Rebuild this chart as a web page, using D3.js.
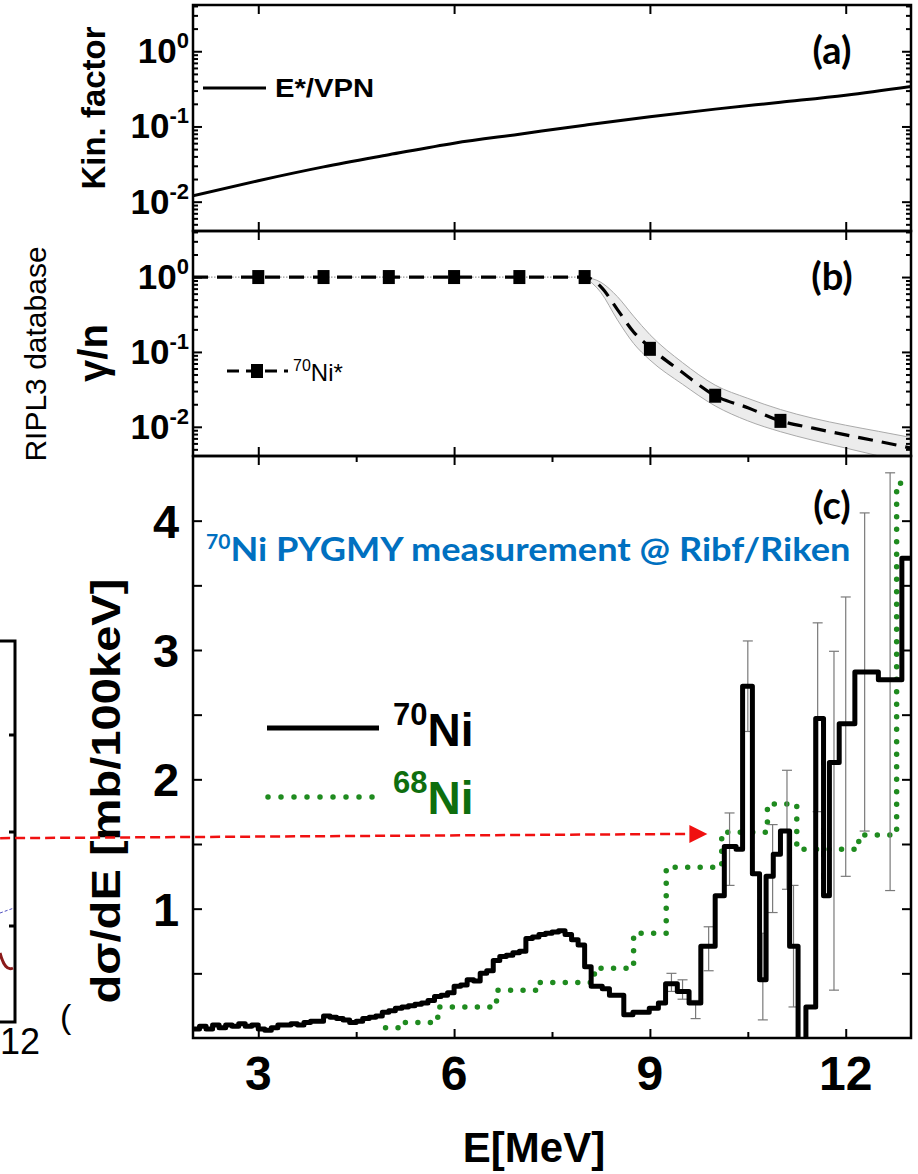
<!DOCTYPE html>
<html><head><meta charset="utf-8">
<script src="https://cdn.jsdelivr.net/npm/d3@7"></script>
<style>body{margin:0;background:#fff} svg{display:block}</style>
</head><body>
<script>
// ---------------- DATA ----------------
const xTickValues = [3, 6, 9, 12];
const xMinorTicks = [4.5, 7.5, 10.5];
const xTickLabels = ["3", "6", "9", "12"];

// panel (a): kinematic factor E*/VPN
const kinE = [2, 3, 4, 5, 6, 7, 8, 9, 10, 11, 12, 13];
const kinFactor = [0.012, 0.019, 0.029, 0.042, 0.060, 0.079, 0.104, 0.135, 0.17, 0.21, 0.26, 0.34];

// panel (b): RIPL3 gamma/n for 70Ni*
const riplE = [3, 4, 5, 6, 7, 8, 9, 10, 11];
const riplGammaN = [1, 1, 1, 1, 1, 1, 0.11, 0.026, 0.012];
const riplCurveE = [2, 3, 4, 5, 6, 7, 8, 8.25, 8.5, 8.75, 9, 9.5, 10, 10.5, 11, 11.5, 12, 12.5, 13];
const riplCurve = [1, 1, 1, 1, 1, 1, 1, 0.74, 0.37, 0.185, 0.115, 0.053, 0.026, 0.018, 0.012, 0.0096, 0.0078, 0.0064, 0.0052];
const bandE = [8, 8.25, 8.5, 8.75, 9, 9.5, 10, 10.5, 11, 11.5, 12, 12.5, 13];
const bandUpper = [1.0, 0.85, 0.55, 0.30, 0.17, 0.072, 0.036, 0.024, 0.017, 0.013, 0.0105, 0.0087, 0.0072];
const bandLower = [1.0, 0.62, 0.27, 0.13, 0.078, 0.037, 0.019, 0.012, 0.0086, 0.0066, 0.0052, 0.0041, 0.0033];

const logMajor = [0.01, 0.1, 1];
const logExp = ["-2", "-1", "0"];

// panel (c): 70Ni histogram (bin starts, values)
const ni70Start = [
  2.0,2.1,2.2,2.3,2.4,2.5,2.6,2.7,2.8,2.9,
  3.0,3.1,3.2,3.3,3.4,3.5,3.6,3.7,3.8,3.9,
  4.0,4.1,4.2,4.3,4.4,4.5,4.6,4.7,4.8,4.9,
  5.0,5.1,5.2,5.3,5.4,5.5,5.6,5.7,5.8,5.9,
  6.0,6.1,6.2,6.3,6.4,6.5,6.6,6.7,6.8,6.9,
  7.0,7.1,7.2,7.3,7.4,7.5,7.6,7.7,7.8,7.9,
  8.0,8.1,8.27,8.38,8.6,8.74,8.99,9.13,9.24,9.42,9.6,9.78,
  10.0,10.14,10.32,10.42,10.57,10.68,10.78,10.89,11.0,11.14,11.27,11.39,
  11.54,11.66,11.75,11.9,12.14,12.5,12.86];
const ni70Value = [
  0.07,0.09,0.07,0.10,0.08,0.10,0.09,0.11,0.09,0.10,
  0.07,0.06,0.08,0.10,0.10,0.11,0.10,0.12,0.13,0.13,
  0.17,0.16,0.15,0.14,0.12,0.13,0.15,0.16,0.17,0.20,
  0.21,0.23,0.24,0.25,0.26,0.27,0.29,0.32,0.33,0.35,
  0.40,0.41,0.45,0.44,0.50,0.52,0.60,0.63,0.64,0.66,
  0.67,0.77,0.78,0.80,0.81,0.82,0.83,0.80,0.76,0.72,
  0.55,0.40,0.38,0.33,0.18,0.20,0.23,0.27,0.42,0.36,0.27,0.71,
  1.10,1.48,1.46,2.72,1.27,0.45,1.25,1.42,1.60,0.71,-0.30,0.24,
  2.47,1.10,2.13,2.43,2.83,2.77,3.71];
const histEnd = 13;

// 70Ni error bars
const errE  = [9.33, 9.5, 9.7, 9.9, 10.22, 10.5, 10.73, 10.88, 11.1, 11.2, 11.57, 11.82, 12.0, 12.29, 12.68];
const errLo = [0.36, 0.30, 0.15, 0.52, 1.18, 2.37, 0.14, 0.97, 1.15, 0.24, 1.75, 0.37, 1.25, 1.60, 1.14];
const errHi = [0.50, 0.45, 0.29, 0.86, 1.74, 3.07, 0.81, 1.65, 2.07, 1.18, 3.21, 2.99, 3.41, 4.06, 4.37];

// panel (c): 68Ni histogram
const ni68Start = [4.95, 5.25, 5.75, 6.65, 7.25, 8.15, 8.75, 9.25, 10.1, 10.8, 11.25, 12.2, 12.78];
const ni68Value = [0.08, 0.12, 0.24, 0.37, 0.43, 0.54, 0.81, 1.32, 1.59, 1.81, 1.46, 1.57, 4.29];

const yTicksC = [1, 2, 3, 4];
const yTicksCAll = [0.5, 1, 1.5, 2, 2.5, 3, 3.5, 4];

// red arrow annotation (data units of panel c)
const arrowFrom = [-0.955, 1.545];
const arrowTo = [9.88, 1.578];

// ---------------- LAYOUT ----------------
const W = 918, H = 1174;
const X0 = 193, X1 = 911;
const A = {top: 5, bottom: 231}, B = {top: 231, bottom: 456}, C = {top: 456, bottom: 1038};
const FONT = "'Liberation Sans', Arial, Helvetica, sans-serif";
const NARROW = "'Liberation Sans Narrow', 'Arial Narrow', 'Liberation Sans', Arial, sans-serif";
const LATO = "Lato, 'Open Sans', sans-serif";

const svg = d3.select("body").append("svg").attr("width", W).attr("height", H)
  .style("background", "#fff");

const x = d3.scaleLinear().domain([2, 13]).range([X0, X1]);
const logDom = [Math.pow(10, -2.39), Math.pow(10, 0.615)];
const yA = d3.scaleLog().domain(logDom).range([A.bottom, A.top]);
const yB = d3.scaleLog().domain(logDom).range([B.bottom, B.top]);
const yC = d3.scaleLinear().domain([0, 4.5]).range([C.bottom, C.top]);

const defs = svg.append("defs");
[["clipA", A], ["clipB", B], ["clipC", C]].forEach(([id, p]) => {
  defs.append("clipPath").attr("id", id).append("rect")
    .attr("x", X0).attr("y", p.top).attr("width", X1 - X0).attr("height", p.bottom - p.top);
});

// log minor tick list
const logMinor = [];
[0.001, 0.01, 0.1, 1].forEach(d => { for (let k = 2; k <= 9; k++) { const v = k * d; if (v >= logDom[0] && v <= logDom[1]) logMinor.push(v); } });

function styleAxis(g) {
  g.select(".domain").remove();
  g.selectAll(".tick line").attr("stroke", "#000").attr("stroke-width", 2);
  g.selectAll(".tick text").remove();
}

function xAxes(p, minor) {
  svg.append("g").attr("transform", `translate(0,${p.top})`)
    .call(d3.axisTop(x).tickValues(xTickValues).tickSize(-9)).call(styleAxis);
  svg.append("g").attr("transform", `translate(0,${p.bottom})`)
    .call(d3.axisBottom(x).tickValues(xTickValues).tickSize(-9)).call(styleAxis);
  if (minor) {
    svg.append("g").attr("transform", `translate(0,${p.top})`)
      .call(d3.axisTop(x).tickValues(xMinorTicks).tickSize(-6)).call(styleAxis);
    svg.append("g").attr("transform", `translate(0,${p.bottom})`)
      .call(d3.axisBottom(x).tickValues(xMinorTicks).tickSize(-6)).call(styleAxis);
  }
}

function logAxes(y) {
  svg.append("g").attr("transform", `translate(${X0},0)`)
    .call(d3.axisLeft(y).tickValues(logMajor).tickSize(-9)).call(styleAxis);
  svg.append("g").attr("transform", `translate(${X0},0)`)
    .call(d3.axisLeft(y).tickValues(logMinor).tickSize(-5)).call(styleAxis);
  svg.append("g").attr("transform", `translate(${X1},0)`)
    .call(d3.axisRight(y).tickValues(logMajor).tickSize(-9)).call(styleAxis);
  svg.append("g").attr("transform", `translate(${X1},0)`)
    .call(d3.axisRight(y).tickValues(logMinor).tickSize(-5)).call(styleAxis);
  logMajor.forEach((v, i) => {
    const t = svg.append("text").attr("x", 189).attr("y", y(v) + 12)
      .attr("text-anchor", "end").attr("font-family", FONT).attr("font-weight", "bold")
      .attr("font-size", 35).attr("fill", "#000").text("10");
    t.append("tspan").attr("dy", -15).attr("font-size", 22).text(logExp[i]);
  });
}

// ---------------- PANEL (a) ----------------
const kinData = kinE.map((e, i) => [e, kinFactor[i]]);
svg.append("path").datum(kinData).attr("clip-path", "url(#clipA)")
  .attr("fill", "none").attr("stroke", "#000").attr("stroke-width", 3)
  .attr("d", d3.line().x(d => x(d[0])).y(d => yA(d[1])).curve(d3.curveMonotoneX));
xAxes(A, false);
logAxes(yA);
// legend (a)
svg.append("line").attr("x1", 203).attr("x2", 266).attr("y1", 88).attr("y2", 88)
  .attr("stroke", "#000").attr("stroke-width", 3);
svg.append("text").attr("x", 275).attr("y", 97).attr("font-family", FONT)
  .attr("font-weight", "bold").attr("font-size", 25).attr("textLength", 99)
  .attr("lengthAdjust", "spacingAndGlyphs").text("E*/VPN");
svg.append("text").attr("x", 832).attr("y", 64).attr("text-anchor", "middle")
  .attr("font-family", LATO).attr("font-weight", "bold").attr("font-size", 38).text("(a)");
svg.append("text").attr("transform", "translate(105,108) rotate(-90)")
  .attr("text-anchor", "middle").attr("font-family", FONT).attr("font-weight", "bold")
  .attr("font-size", 33).text("Kin. factor");

// ---------------- PANEL (b) ----------------
const bandData = bandE.map((e, i) => [e, bandLower[i], bandUpper[i]]);
const gB = svg.append("g").attr("clip-path", "url(#clipB)");
gB.append("path").datum(bandData).attr("fill", "#ececec").attr("stroke", "none")
  .attr("d", d3.area().x(d => x(d[0])).y0(d => yB(d[1])).y1(d => yB(d[2])).curve(d3.curveMonotoneX));
gB.append("path").datum(bandData).attr("fill", "none").attr("stroke", "#aaa").attr("stroke-width", 1)
  .attr("d", d3.line().x(d => x(d[0])).y(d => yB(d[2])).curve(d3.curveMonotoneX));
gB.append("path").datum(bandData).attr("fill", "none").attr("stroke", "#aaa").attr("stroke-width", 1)
  .attr("d", d3.line().x(d => x(d[0])).y(d => yB(d[1])).curve(d3.curveMonotoneX));
// thin grey dotted connector along the points
const riplFlat = riplCurveE.map((e, i) => [e, riplCurve[i]]).filter(d => d[0] <= 8);
gB.append("path").datum(riplFlat).attr("fill", "none").attr("stroke", "#999")
  .attr("stroke-width", 1.2).attr("stroke-dasharray", "1.5,1.5")
  .attr("d", d3.line().x(d => x(d[0])).y(d => yB(d[1])));
// dashed curve
gB.append("path").datum(riplCurveE.map((e, i) => [e, riplCurve[i]]))
  .attr("fill", "none").attr("stroke", "#000").attr("stroke-width", 3.2)
  .attr("stroke-dasharray", "15,9")
  .attr("d", d3.line().x(d => x(d[0])).y(d => yB(d[1])).curve(d3.curveMonotoneX));
// squares
gB.selectAll("rect.pt").data(riplE.map((e, i) => [e, riplGammaN[i]])).join("rect")
  .attr("class", "pt").attr("x", d => x(d[0]) - 6).attr("y", d => yB(d[1]) - 7)
  .attr("width", 12).attr("height", 14).attr("fill", "#000");
xAxes(B, false);
logAxes(yB);
// legend (b)
svg.append("line").attr("x1", 227).attr("x2", 288).attr("y1", 371).attr("y2", 371)
  .attr("stroke", "#000").attr("stroke-width", 3).attr("stroke-dasharray", "12,7");
svg.append("rect").attr("x", 251).attr("y", 364).attr("width", 12).attr("height", 14).attr("fill", "#000");
const lb = svg.append("text").attr("x", 293).attr("y", 381).attr("font-family", NARROW)
  .attr("font-size", 24);
lb.append("tspan").attr("font-size", 16).attr("dy", -10).text("70");
lb.append("tspan").attr("dy", 10).text("Ni*");
svg.append("text").attr("x", 832).attr("y", 290).attr("text-anchor", "middle")
  .attr("font-family", LATO).attr("font-weight", "bold").attr("font-size", 38).text("(b)");
svg.append("text").attr("transform", "translate(107,353) rotate(-90)")
  .attr("text-anchor", "middle").attr("font-family", FONT).attr("font-weight", "bold")
  .attr("font-size", 40).text("γ/n");
svg.append("text").attr("transform", "translate(46,354) rotate(-90)")
  .attr("text-anchor", "middle").attr("font-family", FONT)
  .attr("font-size", 30).text("RIPL3 database");

// ---------------- PANEL (c) ----------------
const gC = svg.append("g").attr("clip-path", "url(#clipC)");
const stepLine = d3.line().x(d => x(d[0])).y(d => yC(d[1])).curve(d3.curveStepAfter);
// 68Ni green dotted
const ni68Pts = ni68Start.map((s, i) => [s, ni68Value[i]]);
ni68Pts.push([histEnd, ni68Value[ni68Value.length - 1]]);
gC.append("path").datum(ni68Pts).attr("fill", "none").attr("stroke", "#1f8b1f")
  .attr("stroke-width", 5.5).attr("stroke-linecap", "round").attr("stroke-dasharray", "0,12.5")
  .attr("d", stepLine);
// error bars
const errData = errE.map((e, i) => [e, errLo[i], errHi[i]]);
const eb = gC.append("g").attr("stroke", "#7a7a7a").attr("stroke-width", 1.2);
eb.selectAll("line.v").data(errData).join("line").attr("class", "v")
  .attr("x1", d => x(d[0])).attr("x2", d => x(d[0])).attr("y1", d => yC(d[1])).attr("y2", d => yC(d[2]));
eb.selectAll("line.t").data(errData).join("line").attr("class", "t")
  .attr("x1", d => x(d[0]) - 5).attr("x2", d => x(d[0]) + 5).attr("y1", d => yC(d[2])).attr("y2", d => yC(d[2]));
eb.selectAll("line.b").data(errData).join("line").attr("class", "b")
  .attr("x1", d => x(d[0]) - 5).attr("x2", d => x(d[0]) + 5).attr("y1", d => yC(d[1])).attr("y2", d => yC(d[1]));
// 70Ni black histogram
const ni70Pts = ni70Start.map((s, i) => [s, ni70Value[i]]);
ni70Pts.push([histEnd, ni70Value[ni70Value.length - 1]]);
gC.append("path").datum(ni70Pts).attr("fill", "none").attr("stroke", "#000")
  .attr("stroke-width", 5).attr("stroke-linejoin", "round").attr("d", stepLine);

xAxes(C, true);
svg.append("g").attr("transform", `translate(${X0},0)`)
  .call(d3.axisLeft(yC).tickValues(yTicksCAll).tickSize(-9)).call(styleAxis);
svg.append("g").attr("transform", `translate(${X1},0)`)
  .call(d3.axisRight(yC).tickValues(yTicksCAll).tickSize(-9)).call(styleAxis);

// tick labels c
svg.selectAll("text.yc").data(yTicksC).join("text").attr("class", "yc")
  .attr("x", 166).attr("y", d => yC(d) + 17).attr("text-anchor", "middle")
  .attr("font-family", FONT).attr("font-weight", "bold").attr("font-size", 47).text(d => d);
svg.selectAll("text.xc").data(xTickValues).join("text").attr("class", "xc")
  .attr("x", d => x(d)).attr("y", 1090).attr("text-anchor", "middle")
  .attr("font-family", FONT).attr("font-weight", "bold").attr("font-size", 48)
  .text((d, i) => xTickLabels[i]);
svg.append("text").attr("x", 534).attr("y", 1162).attr("text-anchor", "middle")
  .attr("font-family", FONT).attr("font-weight", "bold").attr("font-size", 42).text("E[MeV]");
svg.append("text").attr("transform", "translate(120,791) rotate(-90)")
  .attr("text-anchor", "middle").attr("font-family", FONT).attr("font-weight", "bold")
  .attr("font-size", 40).attr("textLength", 425).attr("lengthAdjust", "spacingAndGlyphs")
  .text("dσ/dE [mb/100keV]");

// title & label
const tt = svg.append("text").attr("x", 206).attr("y", 561).attr("font-family", LATO)
  .attr("font-weight", "bold").attr("font-size", 33).attr("fill", "#0070c0");
tt.append("tspan").attr("font-size", 21).attr("dy", -12).text("70");
tt.append("tspan").attr("dy", 12).attr("textLength", 620).attr("lengthAdjust", "spacingAndGlyphs")
  .text("Ni PYGMY measurement @ Ribf/Riken");
svg.append("text").attr("x", 832).attr("y", 519).attr("text-anchor", "middle")
  .attr("font-family", LATO).attr("font-weight", "bold").attr("font-size", 38).text("(c)");

// legend (c)
svg.append("line").attr("x1", 267).attr("x2", 379).attr("y1", 728).attr("y2", 728)
  .attr("stroke", "#000").attr("stroke-width", 5);
const l70 = svg.append("text").attr("x", 393).attr("y", 746).attr("font-family", FONT)
  .attr("font-weight", "bold").attr("font-size", 46).attr("fill", "#000");
l70.append("tspan").attr("font-size", 31).attr("dy", -21).text("70");
l70.append("tspan").attr("dy", 21).text("Ni");
svg.append("line").attr("x1", 268).attr("x2", 374).attr("y1", 797).attr("y2", 797)
  .attr("stroke", "#1f8b1f").attr("stroke-width", 5.5).attr("stroke-linecap", "round")
  .attr("stroke-dasharray", "0,13");
const l68 = svg.append("text").attr("x", 393).attr("y", 814).attr("font-family", FONT)
  .attr("font-weight", "bold").attr("font-size", 46).attr("fill", "#0e6e0e");
l68.append("tspan").attr("font-size", 31).attr("dy", -21).text("68");
l68.append("tspan").attr("dy", 21).text("Ni");

// ---------------- frames ----------------
[A, B, C].forEach(p => {
  svg.append("rect").attr("x", X0).attr("y", p.top).attr("width", X1 - X0).attr("height", p.bottom - p.top)
    .attr("fill", "none").attr("stroke", "#000").attr("stroke-width", 2.5);
});

// ---------------- left fragment of neighbouring figure ----------------
svg.append("path").attr("d", "M0,641 H15 V1022 H0").attr("fill", "none")
  .attr("stroke", "#000").attr("stroke-width", 3);
[735, 832, 926].forEach(yy => svg.append("line").attr("x1", 15).attr("x2", 9)
  .attr("y1", yy).attr("y2", yy).attr("stroke", "#000").attr("stroke-width", 3));
svg.append("path").attr("d", "M0,953 Q5,972 13,968").attr("fill", "none")
  .attr("stroke", "#8b1a1a").attr("stroke-width", 3);
svg.append("path").attr("d", "M0,913 L14,908").attr("fill", "none")
  .attr("stroke", "#5050c0").attr("stroke-width", 1).attr("stroke-dasharray", "3,2");
svg.append("text").attr("x", 20).attr("y", 1054).attr("text-anchor", "middle")
  .attr("font-family", FONT).attr("font-size", 36).text("12");
svg.append("text").attr("x", 60).attr("y", 1028)
  .attr("font-family", FONT).attr("font-size", 34).text("(");

// red dashed arrow
const ax0 = x(arrowFrom[0]), ay0 = yC(arrowFrom[1]), ax1 = x(arrowTo[0]), ay1 = yC(arrowTo[1]);
svg.append("line").attr("x1", ax0).attr("y1", ay0).attr("x2", ax1 - 14).attr("y2", ay1)
  .attr("stroke", "#f01010").attr("stroke-width", 2.5).attr("stroke-dasharray", "10,5");
svg.append("path").attr("d", `M${ax1},${ay1} L${ax1 - 18},${ay1 - 9} L${ax1 - 18},${ay1 + 9} Z`)
  .attr("fill", "#f01010");
</script>
</body></html>
